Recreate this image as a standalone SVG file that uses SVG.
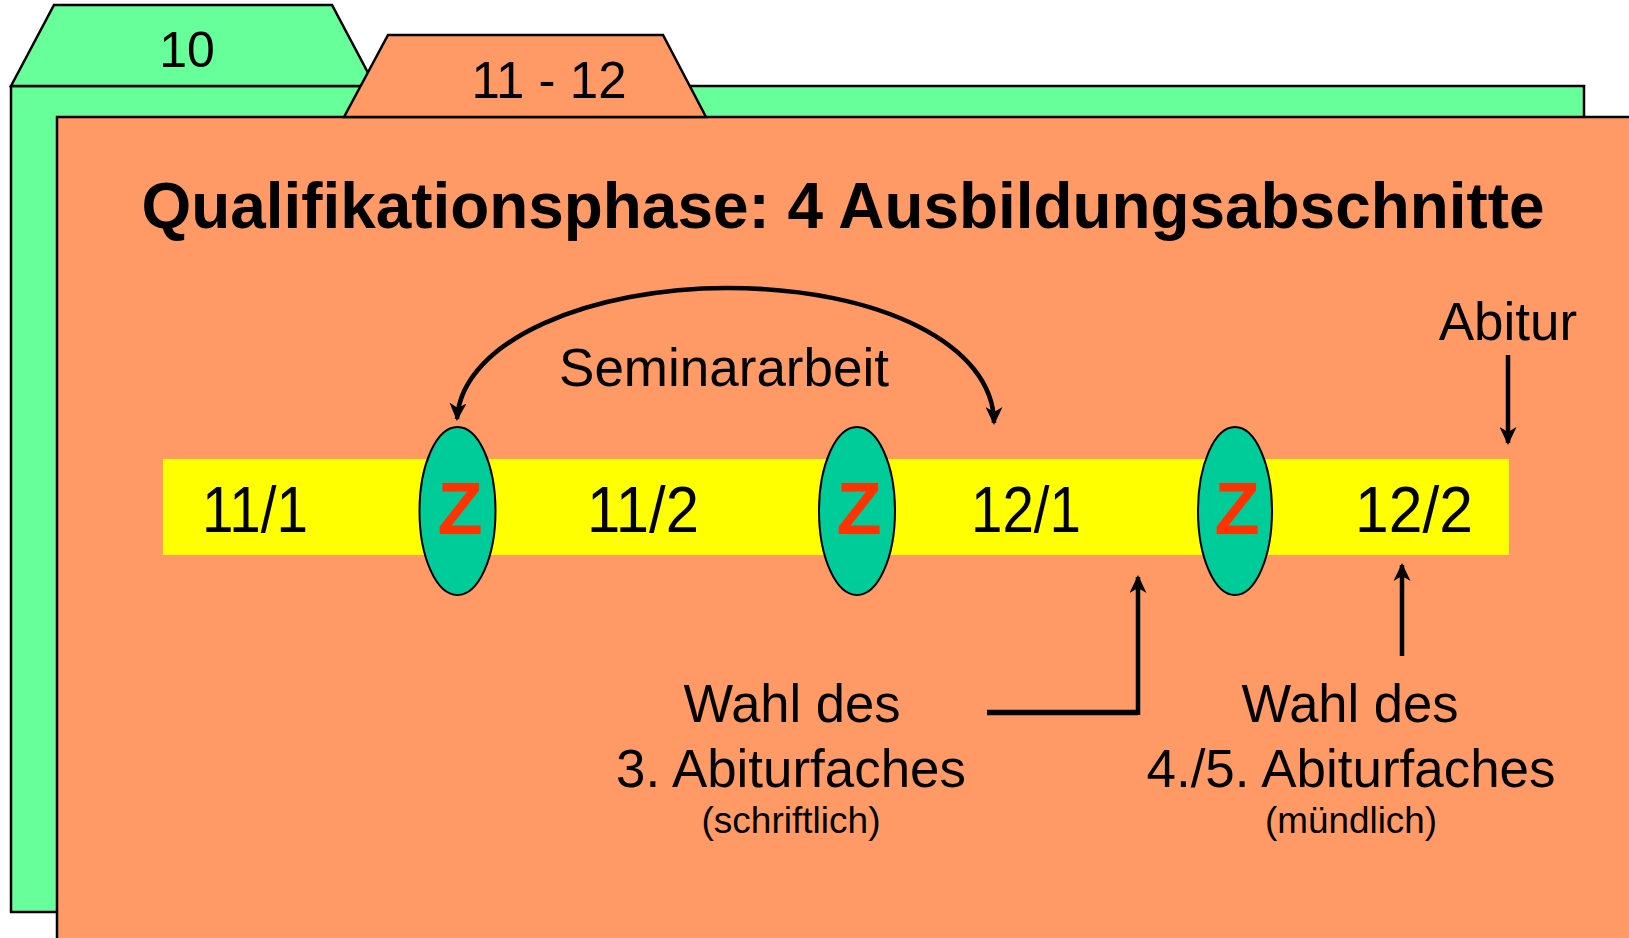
<svg xmlns="http://www.w3.org/2000/svg" width="1629" height="938" viewBox="0 0 1629 938">
<style>
text{font-family:"Liberation Sans",Arial,sans-serif;fill:#000;text-anchor:middle}
.fold{stroke:#000;stroke-width:2.5;stroke-linejoin:miter}
.green{fill:#66FF99}
.orange{fill:#FF9966}
.lbl{font-size:64px}
.z{font-size:74px;font-weight:bold;fill:#FF3300}
.oval{fill:#00CC99;stroke:#000;stroke-width:2}
.big{font-size:53px}
.small{font-size:36px}
.con{fill:none;stroke:#000;stroke-width:4.5}
</style>
<defs>
<marker id="ah" viewBox="0 0 18 17" refX="16" refY="8.5" markerWidth="18" markerHeight="17" markerUnits="userSpaceOnUse" orient="auto-start-reverse">
<path d="M0,0 L18,8.5 L0,17 L5,8.5 z" fill="#000"/>
</marker>
</defs>
<rect width="1629" height="938" fill="#fff"/>
<g id="folder-10">
<rect class="fold green" x="11" y="86" width="1573" height="826"/>
<polygon class="fold green" points="11,86 54,5 332,5 375,86"/>
<text x="187" y="67" style="font-size:50px">10</text>
</g>
<g id="folder-11-12">
<rect class="fold orange" x="57" y="117" width="1600" height="840"/>
<polygon class="fold orange" points="344,117 388,35 663,35 706,117"/>
<text x="549" y="98" style="font-size:51px">11 - 12</text>
</g>
<g id="title">
<text x="843" y="228" style="font-size:64px;font-weight:bold" textLength="1403" lengthAdjust="spacingAndGlyphs">Qualifikationsphase: 4 Ausbildungsabschnitte</text>
</g>
<g id="bar">
<rect x="163" y="459" width="1346" height="96" fill="#FFFF00"/>
<text class="lbl" x="255" y="532" textLength="106" lengthAdjust="spacingAndGlyphs">11/1</text>
<text class="lbl" x="643" y="532" textLength="112" lengthAdjust="spacingAndGlyphs">11/2</text>
<text class="lbl" x="1026" y="532" textLength="110" lengthAdjust="spacingAndGlyphs">12/1</text>
<text class="lbl" x="1414" y="532" textLength="118" lengthAdjust="spacingAndGlyphs">12/2</text>
</g>
<g id="z1">
<ellipse class="oval" cx="457.5" cy="511" rx="38" ry="84"/>
<text class="z" x="460" y="534">Z</text>
</g>
<g id="z2">
<ellipse class="oval" cx="857" cy="511" rx="38" ry="84"/>
<text class="z" x="859" y="534">Z</text>
</g>
<g id="z3">
<ellipse class="oval" cx="1235" cy="511" rx="37" ry="84"/>
<text class="z" x="1237" y="534">Z</text>
</g>
<g id="connectors">
<path class="con" d="M457,419 C462,338 595,288 727,288 C880,288 994,345 994,423" marker-start="url(#ah)" marker-end="url(#ah)"/>
<path class="con" d="M1508,355 L1508,443" marker-end="url(#ah)"/>
<path class="con" d="M987,712.5 L1138,712.5" style="stroke-width:5.5"/>
<path class="con" d="M1138,715 L1138,577" marker-end="url(#ah)"/>
<path class="con" d="M1402,656 L1402,565" marker-end="url(#ah)"/>
</g>
<g id="labels">
<text class="big" x="724" y="386">Seminararbeit</text>
<text class="big" x="1508" y="340">Abitur</text>
<text class="big" x="792" y="722" textLength="217" lengthAdjust="spacingAndGlyphs">Wahl des</text>
<text class="big" x="791" y="787" textLength="350" lengthAdjust="spacingAndGlyphs">3. Abiturfaches</text>
<text class="small" x="791" y="833" textLength="179" lengthAdjust="spacingAndGlyphs">(schriftlich)</text>
<text class="big" x="1350" y="722" textLength="217" lengthAdjust="spacingAndGlyphs">Wahl des</text>
<text class="big" x="1351" y="787" textLength="409" lengthAdjust="spacingAndGlyphs">4./5. Abiturfaches</text>
<text class="small" x="1351" y="833" textLength="172" lengthAdjust="spacingAndGlyphs">(mündlich)</text>
</g>
</svg>
